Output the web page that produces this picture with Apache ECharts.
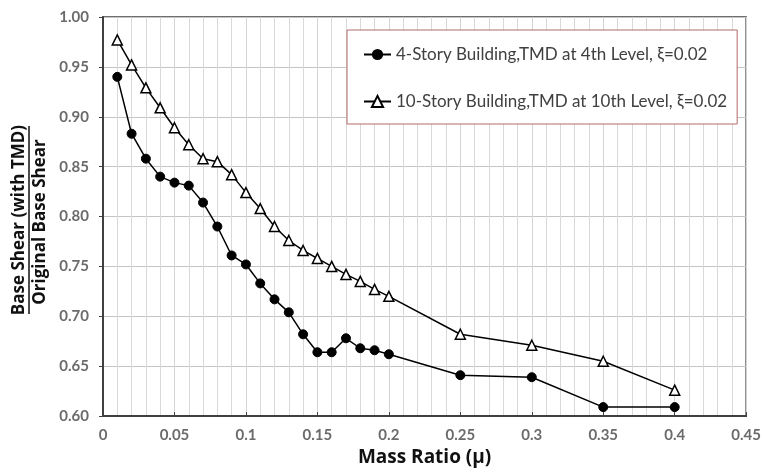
<!DOCTYPE html>
<html>
<head>
<meta charset="utf-8">
<script src="https://cdn.jsdelivr.net/npm/echarts@6/dist/echarts.min.js"></script>
<style>
  html, body { margin: 0; padding: 0; background: #fff; }
  #chart { width: 764px; height: 472px; }
</style>
</head>
<body>
<div id="chart"></div>
<script>
// mass ratio values
var massRatio = [0.01, 0.02, 0.03, 0.04, 0.05, 0.06, 0.07, 0.08, 0.09, 0.10,
                 0.11, 0.12, 0.13, 0.14, 0.15, 0.16, 0.17, 0.18, 0.19, 0.20,
                 0.25, 0.30, 0.35, 0.40];
// base shear ratio, 4-story building
var story4 = [0.940, 0.883, 0.858, 0.840, 0.834, 0.831, 0.814, 0.790, 0.761, 0.752,
              0.733, 0.717, 0.704, 0.682, 0.664, 0.664, 0.678, 0.668, 0.666, 0.662,
              0.641, 0.639, 0.609, 0.609];
// base shear ratio, 10-story building
var story10 = [0.977, 0.952, 0.929, 0.909, 0.889, 0.872, 0.858, 0.855, 0.842, 0.824,
               0.808, 0.790, 0.776, 0.766, 0.758, 0.750, 0.742, 0.735, 0.727, 0.720,
               0.682, 0.671, 0.655, 0.626];
var seriesNames = ['4-Story Building,TMD at 4th Level, \u03BE=0.02',
                   '10-Story Building,TMD at 10th Level, \u03BE=0.02'];

function pairs(xs, ys) {
    var out = [];
    for (let i = 0; i < xs.length; i++) {
        out.push([xs[i], ys[i]]);
    }
    return out;
}

var FONT = 'Lato';
var TITLE_FONT = 'Open Sans';
var myChart = echarts.init(document.getElementById('chart'));

option = {
    backgroundColor: '#fff',
    animation: false,
    grid: {
        left: 103,
        right: 15,
        top: 17,
        bottom: 50,
        show: true,
        borderColor: '#404040',
        borderWidth: 1.5
    },
    legend: {
        orient: 'vertical',
        left: 347,
        top: 30,
        padding: [16, 10, 14, 16],
        itemGap: 30,
        itemWidth: 27,
        itemHeight: 14,
        backgroundColor: '#fff',
        borderColor: '#b46a6a',
        borderWidth: 1,
        textStyle: {
            fontFamily: FONT,
            fontSize: 17,
            color: '#404040'
        },
        data: seriesNames
    },
    xAxis: {
        type: 'value',
        min: 0,
        max: 0.45,
        interval: 0.05,
        name: 'Mass Ratio (\u03BC)',
        nameLocation: 'middle',
        nameGap: 29,
        nameTextStyle: {
            fontFamily: TITLE_FONT,
            fontSize: 19,
            fontWeight: 'bold',
            color: '#111'
        },
        axisLine: { lineStyle: { color: '#404040', width: 2 } },
        axisTick: { show: true, inside: true, length: 4, lineStyle: { color: '#404040' } },
        axisLabel: {
            fontFamily: FONT,
            fontSize: 15,
            fontWeight: 'bold',
            color: '#6b6b6b',
            margin: 12
        },
        splitLine: { show: true, lineStyle: { color: '#d4d4d4', width: 1 } },
        minorTick: { show: false, splitNumber: 5 },
        minorSplitLine: { show: true, lineStyle: { color: '#d9d9d9', width: 1 } }
    },
    yAxis: {
        type: 'value',
        min: 0.6,
        max: 1.0,
        interval: 0.05,
        axisLine: { show: true, lineStyle: { color: '#404040', width: 2 } },
        axisTick: { show: true, length: 4, lineStyle: { color: '#404040' } },
        axisLabel: {
            fontFamily: FONT,
            fontSize: 15,
            fontWeight: 'bold',
            color: '#6b6b6b',
            margin: 14,
            formatter: function (v) { return v.toFixed(2); }
        },
        splitLine: { show: true, lineStyle: { color: '#c4c4c4', width: 1 } }
    },
    graphic: [
        {
            type: 'text',
            x: 19,
            y: 220,
            rotation: Math.PI / 2,
            style: {
                text: 'Base Shear (with TMD)',
                fontFamily: TITLE_FONT,
                fontSize: 17,
                fontWeight: 'bold',
                fill: '#111',
                align: 'center',
                verticalAlign: 'middle'
            }
        },
        {
            type: 'line',
            shape: { x1: 29, y1: 126, x2: 29, y2: 314 },
            style: { stroke: '#111', lineWidth: 1.5 }
        },
        {
            type: 'text',
            x: 40,
            y: 222,
            rotation: Math.PI / 2,
            style: {
                text: 'Original Base Shear',
                fontFamily: TITLE_FONT,
                fontSize: 17,
                fontWeight: 'bold',
                fill: '#111',
                align: 'center',
                verticalAlign: 'middle'
            }
        }
    ],
    series: [
        {
            name: seriesNames[0],
            type: 'line',
            data: pairs(massRatio, story4),
            symbol: 'circle',
            symbolSize: 9,
            lineStyle: { color: '#000', width: 1.5 },
            itemStyle: { color: '#000', borderColor: '#000' }
        },
        {
            name: seriesNames[1],
            type: 'line',
            data: pairs(massRatio, story10),
            symbol: 'triangle',
            symbolSize: 10,
            lineStyle: { color: '#000', width: 1.5 },
            itemStyle: { color: '#fff', borderColor: '#000', borderWidth: 1.5 }
        }
    ]
};

myChart.setOption(option);
</script>
</body>
</html>
